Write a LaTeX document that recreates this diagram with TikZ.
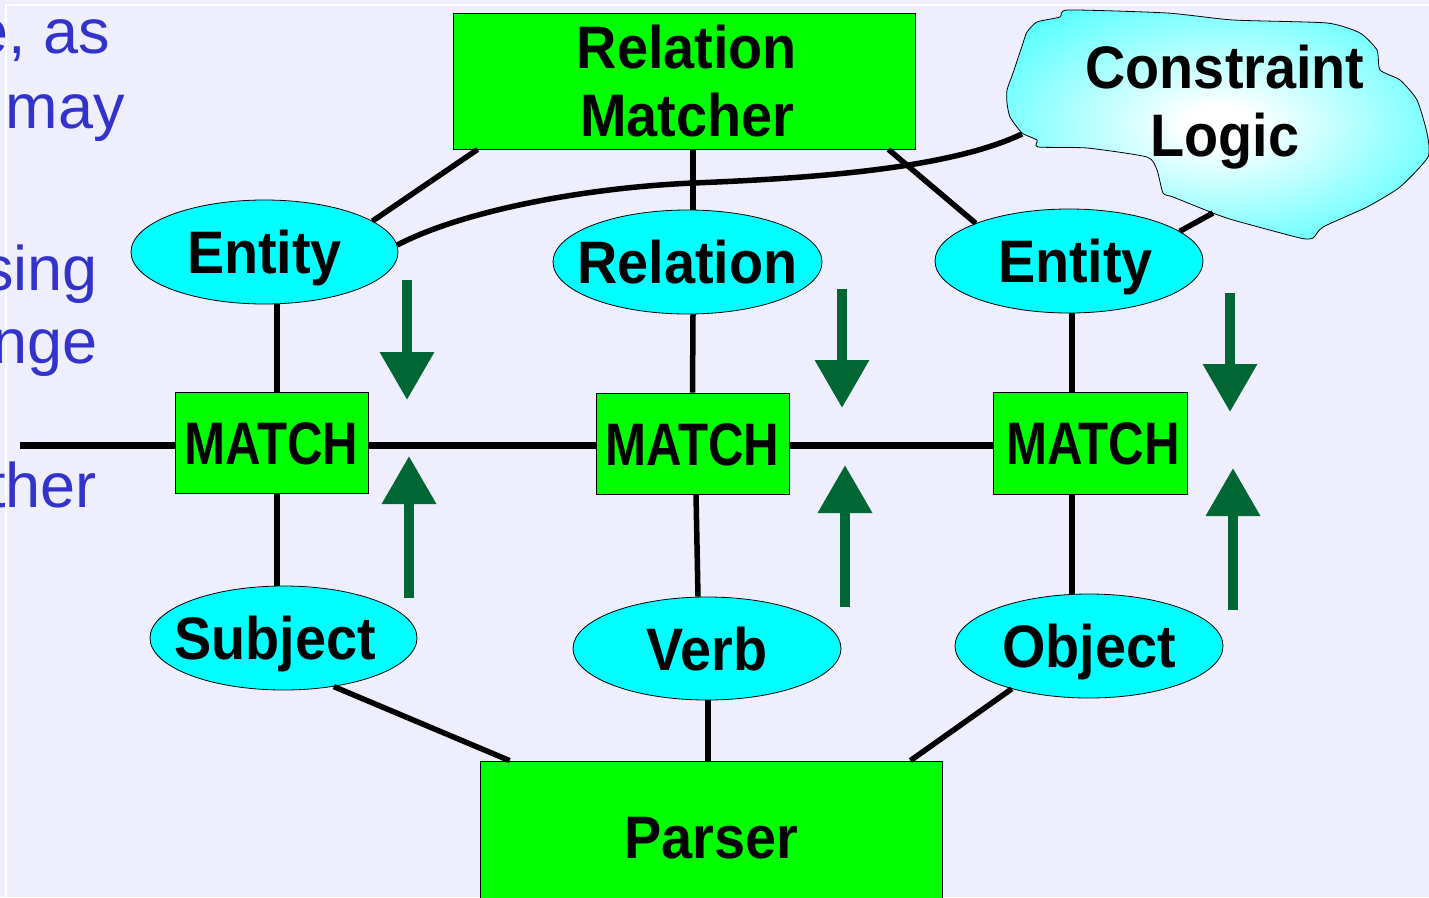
\documentclass[tikz,border=0pt]{standalone}
\usepackage{fontspec}
\setmainfont{Liberation Sans}
\newfontfamily\nodefont{Liberation Sans}[FakeStretch=0.93]
\newfontfamily\matchfont{Liberation Sans}[FakeStretch=0.82]
\usetikzlibrary{calc,arrows.meta,shapes.geometric}
\definecolor{bgc}{RGB}{238,238,252}
\definecolor{slideblue}{RGB}{51,51,204}
\definecolor{boxgreen}{RGB}{0,255,0}
\definecolor{ellcyan}{RGB}{0,255,255}
\definecolor{arrgreen}{RGB}{0,102,51}
\pgfdeclareradialshading{cloudshade}{\pgfpoint{0bp}{0bp}}{color(0bp)=(white); color(4bp)=(white); color(45bp)=(ellcyan); color(50bp)=(ellcyan)}
\begin{document}
\begin{tikzpicture}[x=1pt,y=-1pt,
  lefttext/.style={anchor=base east, inner sep=0pt, text=slideblue, font=\fontsize{63}{72}\selectfont},
  lbl/.style={font=\nodefont\bfseries\fontsize{60}{68}\selectfont, text=black},
  rbox/.style={rectangle, draw=black, line width=0.8pt, fill=boxgreen, inner sep=0pt, lbl},
  mbox/.style={rbox, font=\matchfont\bfseries\fontsize{60}{68}\selectfont, text height=43pt, text depth=0pt, minimum width=193pt, minimum height=101pt},
  ebox/.style={ellipse, draw=black, line width=0.8pt, fill=ellcyan, inner xsep=-25pt, inner ysep=0pt, lbl, text height=43pt, text depth=0pt, minimum width=267pt, minimum height=104pt},
  conn/.style={line width=5.5pt, black},
  hconn/.style={line width=7pt, black},
  garrow/.style={draw=arrgreen, line width=10pt, -{Triangle[width=52pt,length=48pt]}}
]
\useasboundingbox (0,0) rectangle (1429,897);
\clip (0,0) rectangle (1429,897);
\fill[bgc] (0,0) rectangle (1429,897);
\draw[white, line width=1.5pt] (6,897) -- (6,5) -- (1429,5);

% left slide text (cut off at the picture edge, as in the reference)
\node[lefttext] (tx1) at (110,53) {e, as};
\node[lefttext] (tx2) at (125,128) {may};
\node[lefttext] (tx3) at (98,290) {sing};
\node[lefttext] (tx4) at (98,363) {nge};
\node[lefttext] (tx5) at (97,507) {ther};

% cloud
\shadedraw[shading=cloudshade, draw=black, line width=0.8pt]
  plot[smooth cycle, tension=0.35] coordinates {
  (1068,10) (1060,17) (1037,22) (1027,32) (1023,43) (1013,73) (1007,90)
  (1007,103) (1010,117) (1022,133) (1037,140) (1038,147) (1087,148)
  (1147,157) (1157,170) (1163,193) (1173,197) (1213,213) (1233,220)
  (1300,238) (1313,238) (1323,227) (1367,207) (1400,187) (1428,157)
  (1427,133) (1417,100) (1400,80) (1380,70) (1377,50) (1360,33)
  (1327,23) (1233,20) (1167,13)};
\node[lbl, align=center, inner sep=0pt] (cltxt) at (1225,107) {Constraint\\Logic};
\coordinate (cla) at (1022,134);
\coordinate (clb) at (1213,213);

% boxes
\node[rbox, align=center, minimum width=462pt, minimum height=136pt] (rm) at (684,81) {\hspace*{6pt}Relation\\\hspace*{6pt}Matcher};
\node[rbox, text height=43pt, text depth=0pt, minimum width=462pt, minimum height=151pt] (parser) at (711,836.5) {Parser};
\node[mbox] (m1) at (271.5,442.5) {MATCH};
\node[mbox] (m2) at (692.5,443.5) {MATCH};
\node[mbox, minimum width=194pt, minimum height=102pt] (m3) at (1090,443) {\hspace*{6pt}MATCH};

% ellipses
\node[ebox] (ent1) at (264.5,252) {Entity};
\node[ebox, minimum width=269pt] (rel) at (687.5,262) {Relation};
\node[ebox, minimum width=268pt] (ent2) at (1069,261) {\hspace*{13pt}Entity};
\node[ebox] (subj) at (283.5,638) {\hspace*{-17pt}Subject};
\node[ebox, minimum width=268pt, minimum height=103pt] (verb) at (707,648.5) {Verb};
\node[ebox, minimum width=268pt] (obj) at (1089,646) {Object};

% connectors
\coordinate (hl) at (20,445);
\draw[conn] ($(rm.south west)+(25,0)$) -- (ent1.16);
\draw[conn] ($(rm.south)+(9,0)$) -- ($(rel.north)+(5.5,0)$);
\draw[conn] ($(rm.south east)+(-27,0)$) -- (ent2.158);
\draw[conn] (ent1.3) .. controls (460,212) and (580,188) .. (693,183)
                     .. controls (820,178) and (950,168) .. (cla);
\draw[conn] (clb) -- (ent2.15);
\draw[conn] ($(ent1.south)+(12.5,0)$) -- ($(m1.north)+(5.5,0)$);
\draw[conn] ($(rel.south)+(5.5,0)$) -- (m2.north);
\draw[conn] ($(ent2.south)+(3,0)$) -- ($(m3.north)+(-18,0)$);
\draw[conn] ($(m1.south)+(5.5,0)$) -- ($(subj.north)+(-6.5,0)$);
\draw[conn] ($(m2.south)+(3.5,0)$) -- ($(verb.north)+(-9,0)$);
\draw[conn] ($(m3.south)+(-18,0)$) -- ($(obj.north)+(-17,0)$);
\draw[conn] (subj.-44) -- ($(parser.north west)+(30,0)$);
\draw[conn] ($(verb.south)+(1,0)$) -- ($(parser.north)+(-3,0)$);
\draw[conn] (obj.-151) -- ($(parser.north east)+(-32,0)$);
\draw[hconn] (hl) -- ($(m1.west)+(0,2.5)$);
\draw[hconn] ($(m1.east)+(0,2.5)$) -- ($(m2.west)+(0,1.5)$);
\draw[hconn] ($(m2.east)+(0,1.5)$) -- ($(m3.west)+(0,2)$);

% green block arrows
\draw[garrow] (407,280) -- (407,400);
\draw[garrow] (409,598) -- (409,456);
\draw[garrow] (842,289) -- (842,408);
\draw[garrow] (845,607) -- (845,465);
\draw[garrow] (1230,293) -- (1230,412);
\draw[garrow] (1233,610) -- (1233,468);
\end{tikzpicture}
\end{document}
